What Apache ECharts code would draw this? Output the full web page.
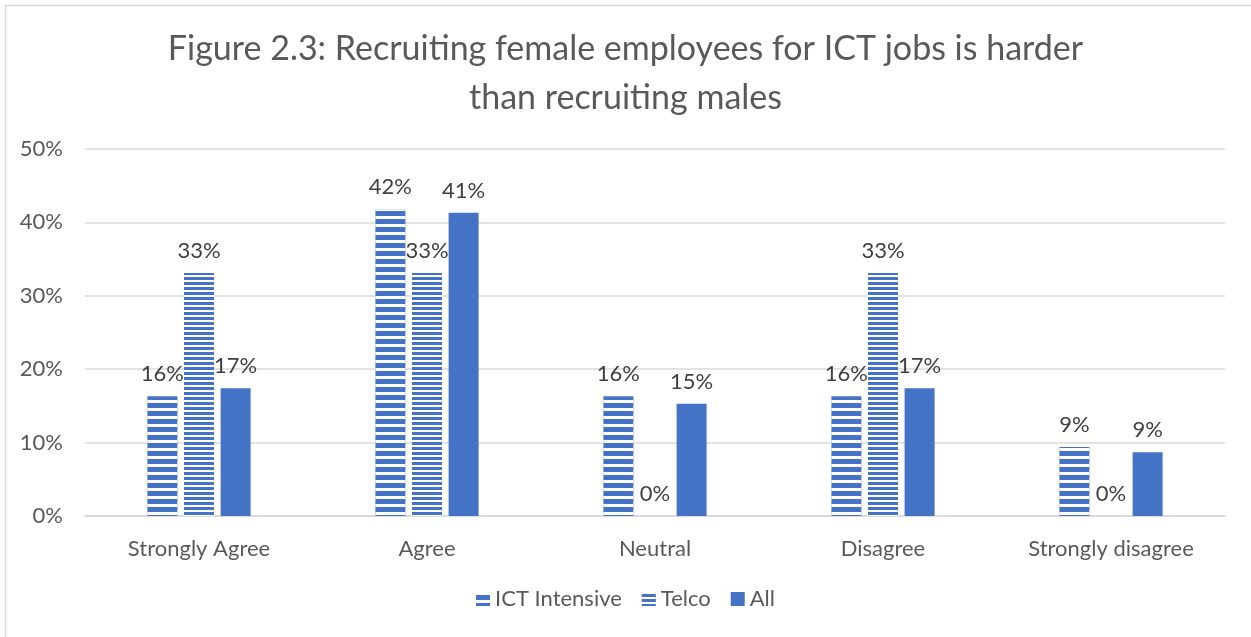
<!DOCTYPE html>
<html>
<head>
<meta charset="utf-8">
<script src="https://cdn.jsdelivr.net/npm/echarts@6/dist/echarts.min.js"></script>
<style>
  html, body { margin: 0; padding: 0; background: #fff; }
  #grafico { width: 1251px; height: 637px; }
</style>
</head>
<body>
<div id="grafico"></div>
<script>
const categorias = ['Strongly Agree', 'Agree', 'Neutral', 'Disagree', 'Strongly disagree'];
const ictIntensive = [0.163, 0.418, 0.163, 0.163, 0.094];
const telco = [0.331, 0.331, 0, 0.331, 0];
const todos = [0.174, 0.413, 0.153, 0.174, 0.087];
const ticksY = [0, 0.1, 0.2, 0.3, 0.4, 0.5];

const azul = '#4472C4';
const fuente = 'Lato, "Liberation Sans", Arial, sans-serif';

function etiqueta() {
    return {
        show: true,
        position: 'top',
        distance: 11,
        color: '#404040',
        fontSize: 22,
        fontFamily: fuente,
        formatter: p => Math.round(p.value * 100) + '%'
    };
}

function dibujarGrafico() {
    let graf = echarts.init(document.getElementById('grafico'));

    let option = {
        animation: false,
        backgroundColor: '#fff',
        title: {
            text: 'Figure 2.3: Recruiting female employees for ICT jobs is harder\nthan recruiting males',
            left: 'center',
            top: 20,
            textStyle: {
                color: '#595959',
                fontSize: 34,
                fontWeight: 'normal',
                fontFamily: fuente,
                lineHeight: 49
            }
        },
        graphic: [{
            type: 'rect',
            shape: { x: 5.5, y: 5.5, width: 1300, height: 700 },
            style: { fill: 'none', stroke: '#d9d9d9', lineWidth: 1.5 },
            silent: true
        }],
        legend: {
            bottom: 22,
            left: 'center',
            icon: 'rect',
            itemWidth: 14,
            itemHeight: 14,
            itemGap: 20,
            textStyle: { color: '#595959', fontSize: 22, fontFamily: fuente },
            data: ['ICT Intensive', 'Telco', 'All']
        },
        grid: {
            left: 85,
            right: 26,
            top: 149,
            bottom: 121
        },
        xAxis: {
            type: 'category',
            data: categorias,
            axisTick: { show: false },
            axisLine: { lineStyle: { color: '#d9d9d9', width: 1.5 } },
            axisLabel: { color: '#595959', fontSize: 22, fontFamily: fuente, margin: 22 }
        },
        yAxis: {
            type: 'value',
            min: 0,
            max: 0.5,
            interval: 0.1,
            axisLine: { show: false },
            axisTick: { show: false },
            splitLine: { lineStyle: { color: '#d9d9d9', width: 1.5 } },
            axisLabel: {
                color: '#595959',
                fontSize: 22,
                fontFamily: fuente,
                margin: 22,
                formatter: v => {
                    let t = ticksY.find(x => Math.abs(x - v) < 1e-9);
                    return Math.round((t !== undefined ? t : v) * 100) + '%';
                }
            }
        },
        series: [
            {
                name: 'ICT Intensive',
                type: 'bar',
                data: ictIntensive,
                barWidth: 30,
                barGap: '22%',
                itemStyle: {
                    color: azul,
                    decal: {
                        symbol: 'rect',
                        color: '#ffffff',
                        dashArrayX: [1, 0],
                        dashArrayY: [3, 5],
                        symbolSize: 1,
                        rotation: 0
                    }
                },
                label: etiqueta()
            },
            {
                name: 'Telco',
                type: 'bar',
                data: telco,
                barWidth: 30,
                itemStyle: {
                    color: azul,
                    decal: {
                        symbol: 'rect',
                        color: '#ffffff',
                        dashArrayX: [1, 0],
                        dashArrayY: [1.5, 2.5],
                        symbolSize: 1,
                        rotation: 0
                    }
                },
                label: etiqueta()
            },
            {
                name: 'All',
                type: 'bar',
                data: todos,
                barWidth: 30,
                itemStyle: { color: azul },
                label: etiqueta()
            }
        ]
    };

    graf.setOption(option);
}

dibujarGrafico();
</script>
</body>
</html>
